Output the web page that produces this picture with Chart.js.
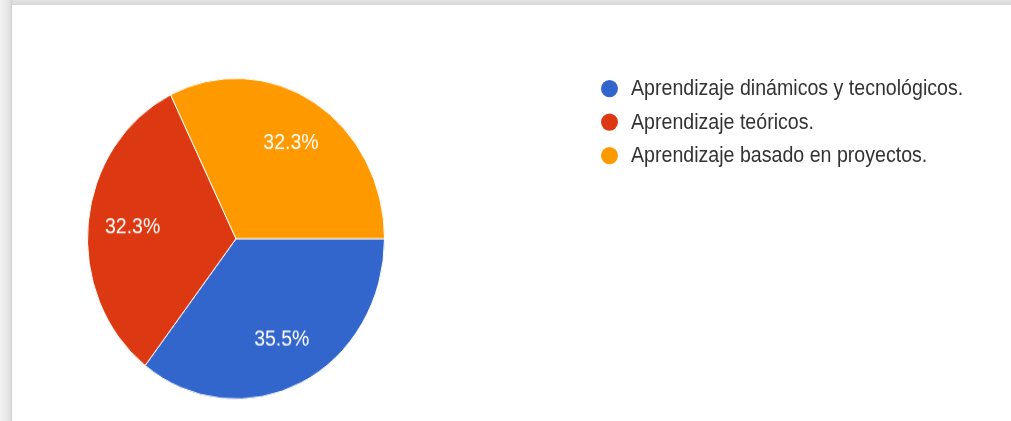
<!DOCTYPE html>
<html>
<head>
<meta charset="utf-8">
<script src="https://cdn.jsdelivr.net/npm/chart.js@4/dist/chart.umd.min.js"></script>
<style>
  html, body { margin: 0; padding: 0; background: #fff; overflow: hidden; }
  body { width: 1011px; height: 421px; position: relative; font-family: 'Liberation Sans', Arial, sans-serif; }
  .frame-top { position: absolute; left: 0; top: 0; width: 1011px; height: 5px; background: linear-gradient(#e4e4e4, #d6d6d6); }
  .frame-left { position: absolute; left: 0; top: 0; width: 12px; height: 421px; background: linear-gradient(to right, #f3f3f3, #e2e2e2 80%, #cfcfcf); }
  .wrap { position: absolute; left: 0; top: 0; width: 1011px; height: 390px; transform: scaleY(1.08); transform-origin: 0 0; }
  .chart-box { position: absolute; left: 87px; top: 72px; width: 298px; height: 298px; }
  #legend { position: absolute; left: 601px; top: 66px; list-style: none; margin: 0; padding: 0; }
  #legend li { height: 31px; line-height: 31px; font-size: 19.6px; color: #333; white-space: nowrap; }
  #legend span { display: inline-block; width: 17px; height: 16px; border-radius: 50%; margin-right: 13px; vertical-align: -2px; }
</style>
</head>
<body>
<div class="frame-top"></div>
<div class="frame-left"></div>
<div class="wrap">
  <div class="chart-box"><canvas id="pieChart"></canvas></div>
  <ul id="legend"></ul>
</div>
<script>
const categories = ['Aprendizaje dinámicos y tecnológicos.', 'Aprendizaje teóricos.', 'Aprendizaje basado en proyectos.'];
const responses = [11, 10, 10];
const sliceColors = ['#3366cc', '#dc3912', '#ff9900'];

// percentages drawn inside the slices, like the google forms summary
const sliceLabels = {
    id: 'sliceLabels',
    afterDatasetsDraw(chart) {
        const ctx = chart.ctx;
        const meta = chart.getDatasetMeta(0);
        const total = responses.reduce((a, b) => a + b, 0);
        ctx.save();
        ctx.font = '19.5px "Liberation Sans", Arial, sans-serif';
        ctx.fillStyle = '#fff';
        ctx.textAlign = 'center';
        ctx.textBaseline = 'middle';
        meta.data.forEach(function(arc, i) {
            const p = arc.getProps(['x', 'y', 'startAngle', 'endAngle', 'outerRadius'], true);
            const mid = (p.startAngle + p.endAngle) / 2;
            const r = p.outerRadius * 0.7;
            const pct = (responses[i] / total * 100).toFixed(1) + '%';
            ctx.fillText(pct, p.x + Math.cos(mid) * r, p.y + Math.sin(mid) * r);
        });
        ctx.restore();
    }
};

const pieChart = new Chart(document.getElementById('pieChart'), {
    type: 'pie',
    data: {
        labels: categories,
        datasets: [{
            data: responses,
            backgroundColor: sliceColors,
            borderColor: '#fff',
            borderWidth: 1
        }]
    },
    options: {
        responsive: true,
        maintainAspectRatio: false,
        animation: false,
        rotation: 90,
        layout: { padding: 0 },
        plugins: {
            legend: { display: false },
            tooltip: { enabled: false }
        }
    },
    plugins: [sliceLabels]
});

// html legend built from the chart's own legend items
const legendEl = document.getElementById('legend');
Chart.overrides.pie.plugins.legend.labels.generateLabels(pieChart).forEach(function(item) {
    const li = document.createElement('li');
    const dot = document.createElement('span');
    dot.style.background = item.fillStyle;
    li.appendChild(dot);
    li.appendChild(document.createTextNode(item.text));
    legendEl.appendChild(li);
});
</script>
</body>
</html>
